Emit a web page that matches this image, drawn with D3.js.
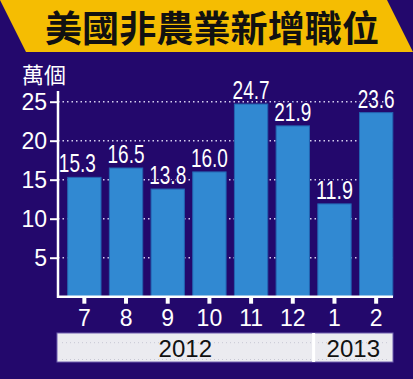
<!DOCTYPE html>
<html><head><meta charset="utf-8">
<script src="https://cdn.jsdelivr.net/npm/d3@7/dist/d3.min.js"></script>
<style>
html,body{margin:0;padding:0;background:#23086c;}
svg{display:block;}
</style></head><body>
<script>
const title = "美國非農業新增職位";
const unitLabel = "萬個";
const months = ["7","8","9","10","11","12","1","2"];
const values = [15.3, 16.5, 13.8, 16.0, 24.7, 21.9, 11.9, 23.6];
const yearOfMonth = ["2012","2012","2012","2012","2012","2012","2013","2013"];
const years = ["2012","2013"];
const yTicks = [5, 10, 15, 20, 25];

const W = 413, H = 379;
const bg = "#23086c";
const svg = d3.select("body").append("svg").attr("width", W).attr("height", H);
svg.append("rect").attr("width", W).attr("height", H).attr("fill", bg);

// title banner
svg.append("polygon").attr("points", "0,0 387,0 413,52 26,52").attr("fill", "#f5bd02");
svg.append("text").attr("x", 45).attr("y", 42)
  .attr("font-family", "'Noto Sans CJK TC','Noto Sans CJK SC',sans-serif")
  .attr("font-weight", 700).attr("font-size", 36.5).attr("fill", "#111")
  .attr("textLength", 334).attr("lengthAdjust", "spacingAndGlyphs")
  .text(title);

const x = d3.scaleBand().domain(months).range([63.5, 397]).paddingInner(0.2).paddingOuter(0.1);
const y = d3.scaleLinear().domain([0, 25]).range([296.7, 101.7]);
const x0 = 58, x1 = 393;

// gridlines
svg.append("g").selectAll("line").data(yTicks).join("line")
  .attr("x1", x0).attr("x2", x1).attr("y1", d => y(d)).attr("y2", d => y(d))
  .attr("stroke", "#d6d0f0").attr("stroke-width", 1.5).attr("stroke-dasharray", "1.5,3");

// bars
svg.append("g").selectAll("rect").data(values).join("rect")
  .attr("x", (d, i) => x(months[i])).attr("width", x.bandwidth())
  .attr("y", d => y(d)).attr("height", d => y(0) - y(d))
  .attr("fill", "#3189d2").attr("stroke", "#2363b0").attr("stroke-width", 1);

// value labels
svg.append("g").selectAll("text").data(values).join("text")
  .attr("x", (d, i) => x(months[i]) + x.bandwidth() / 2 + (i === 0 ? -7 : 0))
  .attr("y", d => y(d) - 5)
  .attr("text-anchor", "middle")
  .attr("font-family", "'Liberation Sans Narrow','Arial Narrow','Liberation Sans',sans-serif")
  .attr("font-size", 25.5).attr("fill", "#fff")
  .attr("textLength", 37).attr("lengthAdjust", "spacingAndGlyphs")
  .attr("stroke", bg).attr("stroke-width", 3).attr("paint-order", "stroke")
  .text(d => d.toFixed(1));

// y axis
const yAxis = svg.append("g").attr("transform", `translate(${x0},0)`)
  .call(d3.axisLeft(y).tickValues(yTicks).tickSize(8).tickPadding(3));
yAxis.select(".domain").remove();
yAxis.selectAll(".tick line").attr("stroke", "#fff").attr("stroke-width", 2);
yAxis.selectAll(".tick text").attr("fill", "#fff").attr("font-size", 23)
  .attr("font-family", "'Liberation Sans',Arial,sans-serif");
svg.append("line").attr("x1", x0).attr("x2", x0).attr("y1", 91).attr("y2", 298)
  .attr("stroke", "#fff").attr("stroke-width", 2.5);

// x axis
const xAxis = svg.append("g").attr("transform", `translate(0,${y(0)})`)
  .call(d3.axisBottom(x).tickSize(7).tickPadding(6));
xAxis.select(".domain").remove();
xAxis.selectAll(".tick line").attr("stroke", "#fff").attr("stroke-width", 4);
xAxis.selectAll(".tick text").attr("fill", "#fff").attr("font-size", 23)
  .attr("font-family", "'Liberation Sans',Arial,sans-serif");
svg.append("line").attr("x1", x0 - 1).attr("x2", x1).attr("y1", y(0)).attr("y2", y(0))
  .attr("stroke", "#fff").attr("stroke-width", 2.5);

// unit label
svg.append("text").attr("x", 22).attr("y", 83)
  .attr("font-family", "'Noto Sans CJK TC','Noto Sans CJK SC',sans-serif")
  .attr("font-size", 22).attr("fill", "#fff").text(unitLabel);

// year band
const bandTop = 333, bandBot = 362;
const idx2013 = yearOfMonth.indexOf("2013");
const sepX = (x(months[idx2013 - 1]) + x.bandwidth() + x(months[idx2013])) / 2;
const bounds = [[x0 - 1, sepX], [sepX, x1]];
const yb = svg.append("g");
yb.append("rect").attr("x", x0 - 1).attr("y", bandTop).attr("width", x1 - x0 + 1).attr("height", bandBot - bandTop)
  .attr("fill", "#ebebf0").attr("stroke", "#6e5fae").attr("stroke-width", 1);
[342.7, 359.5].forEach(yy => yb.append("line").attr("x1", x0 + 4).attr("x2", x1 - 4).attr("y1", yy).attr("y2", yy)
  .attr("stroke", "#c8c8d4").attr("stroke-width", 1).attr("stroke-dasharray", "1,3"));
yb.append("rect").attr("x", sepX - 1.5).attr("y", bandTop).attr("width", 3).attr("height", bandBot - bandTop).attr("fill", "#fff");
yb.selectAll("text.yr").data(years).join("text").attr("class", "yr")
  .attr("x", (d, i) => (bounds[i][0] + bounds[i][1]) / 2).attr("y", 356.5)
  .attr("text-anchor", "middle").attr("font-size", 24)
  .attr("font-family", "'Liberation Sans',Arial,sans-serif").attr("fill", "#111").text(d => d);
</script>
</body></html>
